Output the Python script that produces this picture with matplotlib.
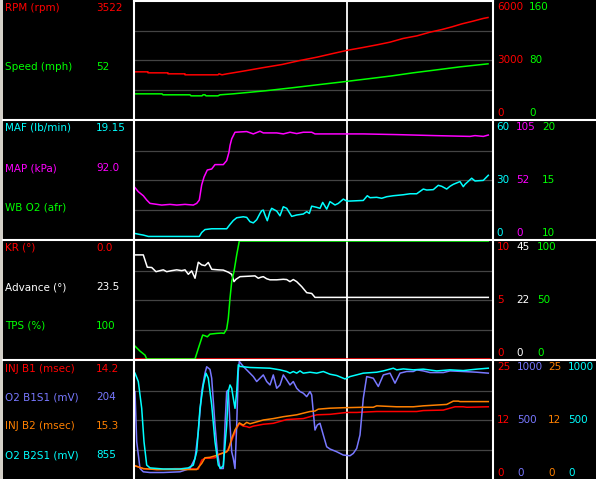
import matplotlib
matplotlib.use('Agg')
import matplotlib.pyplot as plt
from matplotlib.lines import Line2D
from matplotlib.patches import Rectangle

# time axis is in log samples, cursor sits at sample 213
cursor_t = 213
t_max = 359

# panel 1
rpm_t = [0, 14, 14, 34, 34, 51, 51, 84, 85, 88, 93, 99, 111, 128, 148, 166, 183, 199, 214, 229,
         243, 256, 269, 283, 296, 308, 318, 328, 339, 349, 354]
rpm = [2398, 2398, 2347, 2347, 2297, 2297, 2246, 2246, 2297, 2246, 2297, 2347, 2449, 2602, 2771,
       2975, 3144, 3331, 3500, 3636, 3771, 3907, 4094, 4229, 4415, 4551, 4686, 4839, 4975, 5110, 5161]
spd_t = [0, 28, 29, 56, 57, 68, 69, 71, 72, 84, 86, 99, 131, 158, 183, 209, 234, 258, 279, 303, 326, 354]
spd = [34.1, 34.1, 32.8, 32.8, 31.4, 31.4, 32.8, 32.8, 31.4, 31.4, 32.8, 34.1, 38.2, 42.3, 46.3,
       50.4, 54.5, 58.5, 62.6, 66.7, 70.7, 74.8]

# panel 2
maf_t = [1, 6, 9.3, 14.3, 65.3, 67.7, 71, 74.3, 77.7, 92.7, 96, 99.3, 102.7, 109.3, 112.7, 116,
         119.3, 122.7, 126, 127.7, 129.3, 131, 133.3, 136, 137.7, 142.7, 146, 149.3, 152.7, 157.7,
         162.7, 169.3, 172.7, 175.3, 177.7, 182.7, 186, 188.7, 192.7, 196, 201, 204.3, 209.3, 212.7,
         216, 229.3, 233.3, 236, 242.7, 247.7, 252.7, 259.3, 269.3, 276, 282.7, 289.3, 292.7, 299.3,
         304.3, 307.7, 312.7, 316, 319.3, 326, 329.3, 331, 337.7, 341, 349.3, 354.3]
maf = [2.8, 2.3, 2.0, 1.3, 1.3, 3.3, 4.8, 5.0, 5.2, 5.2, 7.4, 9.4, 10.8, 11.3, 11.0, 8.8, 8.2, 9.8,
       13.0, 14.4, 14.7, 12.2, 9.3, 13.9, 15.6, 14.2, 11.8, 16.4, 15.6, 11.5, 12.2, 12.7, 13.9, 13.0,
       16.7, 16.1, 15.6, 18.6, 15.2, 19.0, 17.3, 18.1, 20.3, 19.3, 19.3, 19.6, 22.0, 21.0, 21.2, 20.7,
       21.5, 22.0, 22.5, 23.0, 23.0, 25.4, 24.9, 25.1, 27.3, 26.8, 25.4, 26.8, 27.8, 29.2, 26.6, 27.8,
       30.9, 29.5, 29.8, 32.4]
map_t = [1, 4.3, 9.3, 12.7, 16, 27.7, 36, 42.7, 51, 59.3, 62.7, 65.3, 67.7, 70, 73.3, 77.7, 81,
         89.3, 92.7, 95, 96, 97.7, 101, 112.7, 119.3, 126, 129.3, 142.7, 149.3, 156, 162.7, 169.3,
         177.7, 181, 229.3, 262.7, 301, 336, 341, 349.3, 354.3]
map_kpa = [45.7, 42.1, 38.5, 34.7, 31.7, 30.2, 30.8, 30.2, 30.8, 30.2, 31.7, 34.7, 48.2, 55.1, 61.4,
           62.3, 66.2, 66.2, 69.8, 77.3, 83.2, 89.1, 95.0, 95.6, 93.5, 95.9, 94.4, 94.4, 93.5, 95.0,
           93.8, 95.0, 95.0, 93.5, 93.5, 92.9, 92.0, 91.3, 92.0, 91.3, 92.5]

# panel 3
kr_t = [0, 356]
kr = [0.0, 0.0]
adv_t = [1, 9.3, 13.3, 17.7, 22, 26, 29.3, 32.7, 37.7, 42.7, 47.7, 51, 54.3, 57.7, 61, 64.3, 67.7,
         71, 74.3, 77.7, 84.3, 89.3, 94.3, 97.7, 100, 102, 106, 116, 121, 124.3, 127, 129.3, 132.7,
         136, 142.7, 149.3, 152.7, 156, 159.3, 162.7, 167.7, 172.7, 177.7, 181, 354.3]
adv = [39.7, 39.7, 35.0, 34.9, 33.3, 33.7, 34.0, 33.3, 33.7, 34.0, 33.7, 34.0, 32.3, 33.6, 30.8,
       36.9, 35.9, 35.6, 36.8, 34.2, 34.0, 33.9, 33.1, 32.3, 29.5, 30.4, 31.4, 31.6, 31.7, 30.8,
       31.2, 31.4, 30.6, 30.2, 30.2, 30.4, 30.3, 29.5, 30.3, 29.5, 27.6, 25.3, 25.0, 23.5, 23.5]
tps_t = [1, 6, 11, 12.7, 61, 64.3, 68.7, 71, 73.3, 76, 82.7, 87.7, 90, 92.7, 94.3, 96, 97.7, 100,
         102.7, 105.3, 354.3]
tps = [10.9, 6.7, 3.3, 0, 0, 8.9, 20.3, 19.7, 18.8, 21.1, 21.7, 22.0, 21.7, 25.4, 34.4, 51.4,
       65.6, 74.1, 88.2, 100, 100]

# panel 4
inj1_t = [1, 9.3, 22.7, 41, 51, 64.3, 67.7, 71, 76, 81, 84.3, 89.3, 92.7, 96, 99.3, 102.7, 105.3,
          109.3, 112.7, 115.3, 119.3, 124.3, 129.3, 139.3, 144.3, 152.7, 169.3, 176, 179.3, 182.7,
          196, 212.7, 222.7, 242.7, 282.7, 289.3, 309.3, 316, 321, 329.3, 332.7, 354.3]
inj1 = [2.8, 2.2, 2.0, 2.2, 2.2, 2.1, 4.0, 4.4, 4.4, 4.5, 5.1, 5.6, 5.7, 7.2, 9.0, 10.7, 11.7, 11.2,
        11.1, 10.9, 11.2, 11.4, 11.6, 11.8, 12.1, 12.6, 12.8, 13.2, 13.4, 13.6, 13.7, 14.1, 14.1,
        14.3, 14.3, 14.5, 14.6, 15.0, 15.3, 15.3, 15.2, 15.3]
o2b1_t = [1, 2.7, 6, 9.3, 16, 29.3, 46, 56, 61, 64.3, 67.7, 71, 72.7, 76, 77.7, 81, 83.3, 86, 89.3,
          91, 92.7, 94.3, 96, 97.7, 99.3, 101, 102.7, 104.3, 105.3, 109.3, 114.3, 119.3, 122.7, 126,
          129.3, 132.7, 136, 139.3, 142.7, 146, 149.3, 152.7, 156, 159.3, 162.7, 166, 169.3, 172.7,
          176, 177.7, 181, 183.3, 186, 189.3, 192.7, 196, 202.7, 209.3, 216, 219.3, 222.7, 226,
          229.3, 232.7, 239.3, 244.3, 249.3, 256, 261, 266, 272.7, 279.3, 282.7, 289.3, 296, 309.3,
          316, 329.3, 342.7, 354.3]
o2b1 = [741, 316, 89, 61, 55, 55, 61, 89, 174, 401, 741, 897, 951, 929, 854, 458, 231, 89, 89, 458,
        741, 755, 458, 231, 174, 89, 458, 911, 996, 954, 911, 868, 826, 854, 882, 826, 797, 882, 769,
        797, 882, 840, 797, 826, 769, 741, 727, 698, 741, 712, 415, 458, 472, 373, 273, 254, 231, 203,
        197, 217, 259, 373, 684, 868, 854, 784, 882, 897, 812, 897, 911, 911, 925, 916, 902, 902, 916,
        911, 905, 897]
inj2_t = [1, 9.3, 22.7, 62.7, 67.7, 71, 76, 81, 86, 91, 94.3, 97.7, 101, 105.3, 109.3, 112.7, 116,
          122.7, 129.3, 139.3, 149.3, 162.7, 176, 181, 184.3, 196, 209.3, 229.3, 239.3, 242.7, 262.7,
          279.3, 289.3, 312.7, 319.3, 324.3, 326, 354.3]
inj2 = [2.8, 2.2, 2.0, 2.0, 3.3, 4.5, 4.6, 4.9, 5.3, 5.6, 6.1, 8.6, 10.4, 11.9, 11.4, 12.0, 11.7,
        12.1, 12.5, 12.8, 13.2, 13.6, 14.3, 14.4, 14.8, 15.0, 15.1, 15.2, 15.2, 15.5, 15.3, 15.3,
        15.5, 15.8, 16.5, 16.5, 16.4, 16.4]
o2b2_t = [1, 4.3, 7.7, 10, 12.7, 16, 29.3, 46, 54.3, 59.3, 62.7, 66, 69.3, 72, 74.3, 77.7, 81, 84.3,
          86.7, 89.3, 92.7, 94.3, 96, 97.7, 99.3, 101, 102.7, 104.3, 106, 116, 136, 146, 152.7, 156,
          159.3, 162.7, 166, 169.3, 176, 182.7, 189.3, 196, 202.7, 211, 216, 229.3, 242.7, 249.3,
          259.3, 262.7, 269.3, 279.3, 289.3, 302.7, 316, 329.3, 342.7, 354.3]
o2b2 = [897, 826, 599, 316, 118, 94, 85, 85, 94, 118, 231, 599, 797, 897, 854, 627, 316, 118, 91,
        113, 458, 741, 797, 769, 684, 599, 741, 968, 954, 945, 939, 925, 911, 897, 911, 897, 916, 897,
        905, 897, 911, 888, 877, 848, 868, 897, 905, 916, 939, 925, 933, 925, 931, 916, 925, 919, 931,
        939]

RED = '#FF0000'
GRN = '#00FF00'
CYN = '#00FFFF'
MAG = '#FF00FF'
WHT = '#FFFFFF'
BLU = '#7878FF'
ORG = '#FF8000'

# (label, current value, colour, t, values, scale min, scale max)
panels = [
    [('RPM (rpm)', '3522', RED, rpm_t, rpm, 0, 6000),
     ('Speed (mph)', '52', GRN, spd_t, spd, 0, 160)],
    [('MAF (lb/min)', '19.15', CYN, maf_t, maf, 0, 60),
     ('MAP (kPa)', '92.0', MAG, map_t, map_kpa, 0, 105),
     ('WB O2 (afr)', '', GRN, None, None, 10, 20)],
    [('KR (°)', '0.0', RED, kr_t, kr, 0, 10),
     ('Advance (°)', '23.5', WHT, adv_t, adv, 0, 45),
     ('TPS (%)', '100', GRN, tps_t, tps, 0, 100)],
    [('INJ B1 (msec)', '14.2', RED, inj1_t, inj1, 0, 25),
     ('O2 B1S1 (mV)', '204', BLU, o2b1_t, o2b1, 0, 1000),
     ('INJ B2 (msec)', '15.3', ORG, inj2_t, inj2, 0, 25),
     ('O2 B2S1 (mV)', '855', CYN, o2b2_t, o2b2, 0, 1000)],
]
label_y = [[8, 67], [128, 168, 207], [248, 287, 326], [369, 397, 426, 455]]
scale_x = [[497, 529], [496, 516, 542], [497, 516, 537], [497, 517, 548, 568]]
scale_mid = [['3000', '80'], ['30', '52', '15'], ['5', '22', '50'], ['12', '500', '12', '500']]

W, H = 596, 479
plt.rcParams['font.family'] = ['DejaVu Sans']
fig = plt.figure(figsize=(W / 100, H / 100), dpi=100, facecolor='black')


def fx(px):
    return px / W


def fy(py):
    return 1 - py / H


fig.patches.append(Rectangle((0, 0), fx(3), 1, transform=fig.transFigure,
                             facecolor='#D4D0C8', edgecolor='none'))

fs = 7.5
for i, series in enumerate(panels):
    top = 1 + 120 * i
    bot = 119 + 120 * i
    base = fig.add_axes([fx(134), fy(bot), fx(493) - fx(134), (bot - top) / H])
    base.set_facecolor('black')
    base.set_xlim(0, t_max)
    base.set_ylim(0, 4)
    base.set_yticks([1, 2, 3])
    base.set_xticks([])
    base.tick_params(length=0, labelleft=False)
    base.grid(axis='y', color='#444444', lw=0.9)
    for s in base.spines.values():
        s.set_visible(False)
    base.axvline(cursor_t, color='white', lw=1.3)

    for j, (name, val, col, t, v, lo, hi) in enumerate(series):
        if t is not None:
            ax = base.twinx()
            ax.set_ylim(lo, hi)
            ax.axis('off')
            ax.plot(t, v, color=col, lw=1.1, clip_on=False)
        y = label_y[i][j]
        fig.text(fx(5), fy(y), name, color=col, fontsize=fs, va='center', ha='left')
        if val:
            fig.text(fx(96), fy(y), val, color=col, fontsize=fs, va='center', ha='left')
        x = scale_x[i][j]
        hi_txt = '%g' % hi
        lo_txt = '%g' % lo
        for txt, yy in ((hi_txt, 7), (scale_mid[i][j], 60), (lo_txt, 113)):
            fig.text(fx(x), fy(yy + 120 * i), txt, color=col, fontsize=fs,
                     va='center', ha='left')

# white frame / separators
for py in (120, 240, 360):
    fig.add_artist(Line2D([fx(3), 1], [fy(py), fy(py)], color='white', lw=1.5))
fig.add_artist(Line2D([fx(134), fx(493)], [fy(1), fy(1)], color='white', lw=1.5))
for px in (134, 493):
    fig.add_artist(Line2D([fx(px), fx(px)], [0, 1], color='white', lw=1.5))

fig.savefig('out.png', dpi=100, facecolor='black')
